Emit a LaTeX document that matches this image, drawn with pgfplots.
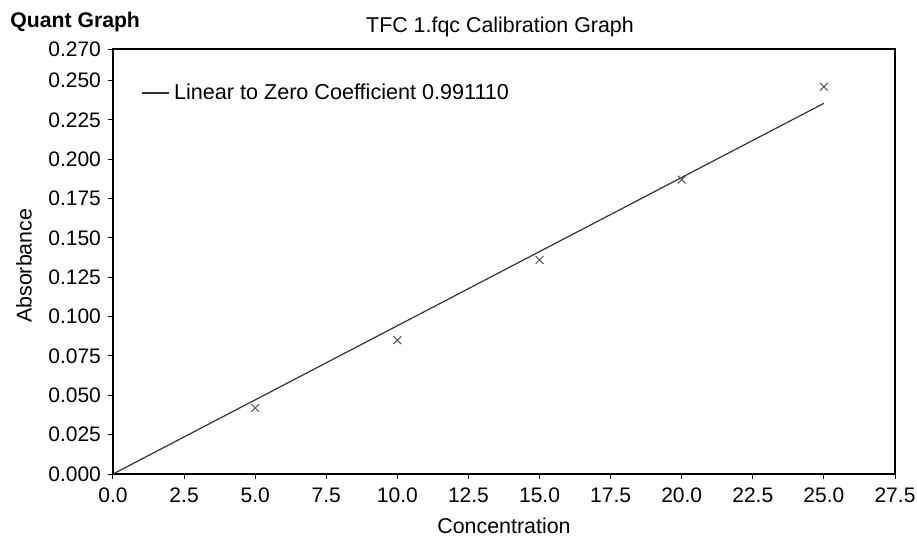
\documentclass[border=0pt]{standalone}
\usepackage{fontspec}
\setmainfont{Liberation Sans}
\usepackage{pgfplots}
\pgfplotsset{compat=1.18}
\definecolor{lineg}{HTML}{333333}
\definecolor{markg}{HTML}{555555}
\begin{document}
\begin{tikzpicture}
\begin{axis}[
  at={(0,0)}, anchor=south west,
  scale only axis,
  width=391pt, height=212.5pt,
  xmin=0, xmax=27.5, ymin=0, ymax=0.27,
  xtick={0,2.5,...,27.5},
  ytick={0,0.025,0.05,0.075,0.1,0.125,0.15,0.175,0.2,0.225,0.25,0.27},
  xtick pos=bottom, ytick pos=left,
  tick align=outside,
  major tick length=2.5pt,
  axis line style={black, line width=0.6pt},
  tick style={black, line width=0.5pt},
  x tick label style={/pgf/number format/.cd, fixed, fixed zerofill, precision=1},
  y tick label style={/pgf/number format/.cd, fixed, fixed zerofill, precision=3},
  /pgf/number format/assume math mode=true,
  ticklabel style={font=\fontsize{10.5}{12}\selectfont},
  xticklabel shift=1pt,
  xlabel={Concentration},
  ylabel={Absorbance},
  label style={font=\fontsize{10.7}{12}\selectfont},
  xlabel style={at={(axis description cs:0.5,0)}, anchor=center, yshift=-26pt},
  ylabel style={at={(axis description cs:-0.1138,0.49)}, anchor=center},
  legend style={at={(axis cs:1.0,0.242)}, anchor=west, draw=none, fill=none,
    font=\fontsize{10.8}{12}\selectfont, inner sep=0pt},
  legend cell align=left,
  legend image code/.code={\draw[#1] (0cm,0cm) -- (13.5pt,0cm);},
  clip=false,
]
\addplot[lineg, line width=0.6pt] coordinates {(0,0) (25,0.2355)};
\addlegendentry{Linear to Zero Coefficient 0.991110}
\addplot[only marks, mark=x, mark size=2.75pt, markg, mark options={line width=0.5pt}, forget plot]
  coordinates {(5,0.042) (10,0.085) (15,0.136) (20,0.187) (25,0.246)};
\end{axis}
\node[anchor=west, font=\bfseries\fontsize{10.6}{12}\selectfont, inner sep=0pt] at (-51.5pt,226pt) {Quant Graph};
\node[anchor=center, font=\fontsize{10.7}{12}\selectfont] at (193.5pt,223.5pt) {TFC 1.fqc Calibration Graph};
\pgfresetboundingbox
\path (-56.5pt,-31.5pt) rectangle (402pt,237pt);
\end{tikzpicture}
\end{document}
